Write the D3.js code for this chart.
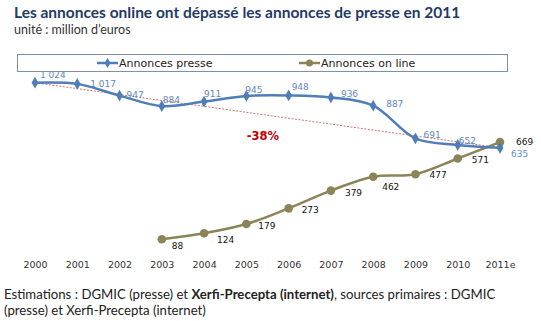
<!DOCTYPE html>
<html>
<head>
<meta charset="utf-8">
<script src="https://cdn.jsdelivr.net/npm/d3@7"></script>
<style>
  body { margin: 0; background: #fff; }
  svg { display: block; }
</style>
</head>
<body>
<svg width="541" height="321"></svg>
<script>
// data
const years = ['2000', '2001', '2002', '2003', '2004', '2005', '2006', '2007', '2008', '2009', '2010', '2011e'];
const presse = [1024, 1017, 947, 884, 911, 945, 948, 936, 887, 691, 652, 635];
const online = [null, null, null, 88, 124, 179, 273, 379, 462, 477, 571, 669];
const presseLabels = ['1 024', '1 017', '947', '884', '911', '945', '948', '936', '887', '691', '652', '635'];

// label offsets (dx, dy) from the point
const presseOff = [[5,-5],[13,3],[7,2],[1,-3],[0,-5],[-1,-3],[3,-5],[10,0],[13,1],[8,0],[1,-1],[11,9.5]];
const onlineOff = [null,null,null,[10,10],[13,10],[12,5],[13,5],[14,5],[9,13],[14,4],[14,5],[16,3]];

const svg = d3.select('svg');
const navy = '#1f3b66';
const blue = '#4f7db8';
const olive = '#8c8458';
const chartFont = 'DejaVu Sans, Verdana, sans-serif';

// titles
svg.append('text').attr('x', 14).attr('y', 18)
    .attr('font-family', 'Lato, sans-serif').attr('font-weight', 'bold').attr('font-size', 15.5)
    .attr('fill', navy).text('Les annonces online ont dépassé les annonces de presse en 2011');
svg.append('text').attr('x', 14).attr('y', 34)
    .attr('font-family', 'Lato, sans-serif').attr('font-size', 12.5)
    .attr('fill', '#333').text('unité : million d’euros');

// scales
const x = d3.scalePoint().domain(years).range([35, 500]);
const y = d3.scaleLinear().domain([0, 1100]).range([254, 70]);

// x axis (labels only)
const xAxis = d3.axisBottom(x).tickSize(0).tickPadding(0);
const xg = svg.append('g').attr('transform', 'translate(0,261)').call(xAxis);
xg.select('.domain').remove();
xg.selectAll('text').attr('font-family', chartFont)
    .attr('font-size', 9.5).attr('fill', '#333');

// trend line from first to last presse value
svg.append('line')
    .attr('x1', x(years[0])).attr('y1', y(presse[0]))
    .attr('x2', x(years[years.length - 1])).attr('y2', y(presse[presse.length - 1]))
    .attr('stroke', '#c0504d').attr('stroke-width', 0.8).attr('stroke-dasharray', '2,1.5');

svg.append('text').attr('x', 263).attr('y', 140).attr('text-anchor', 'middle')
    .attr('font-family', chartFont).attr('font-weight', 'bold')
    .attr('font-size', 11.5).attr('fill', '#c00000').text('-38%');

const line = d3.line()
    .defined(d => d.v != null)
    .x(d => x(d.year))
    .y(d => y(d.v))
    .curve(d3.curveCatmullRom.alpha(0.5));

const presseData = years.map((yr, i) => ({year: yr, v: presse[i], i: i}));
const onlineData = years.map((yr, i) => ({year: yr, v: online[i], i: i})).filter(d => d.v != null);

// online series
svg.append('path').datum(onlineData).attr('d', line)
    .attr('fill', 'none').attr('stroke', olive).attr('stroke-width', 2.5);
svg.selectAll('.pOnline').data(onlineData).join('circle')
    .attr('cx', d => x(d.year)).attr('cy', d => y(d.v)).attr('r', 4.3)
    .attr('fill', olive);

// presse series
svg.append('path').datum(presseData).attr('d', line)
    .attr('fill', 'none').attr('stroke', blue).attr('stroke-width', 2.5);
svg.selectAll('.pPresse').data(presseData).join('path')
    .attr('transform', d => `translate(${x(d.year)},${y(d.v)})`)
    .attr('d', d3.symbol(d3.symbolDiamond, 40))
    .attr('fill', blue);

// labels
svg.selectAll('.lPresse').data(presseData).join('text')
    .attr('x', d => x(d.year) + presseOff[d.i][0])
    .attr('y', d => y(d.v) + presseOff[d.i][1])
    .attr('font-family', chartFont).attr('font-size', 9)
    .attr('fill', '#6488bd')
    .text(d => presseLabels[d.i]);

svg.selectAll('.lOnline').data(onlineData).join('text')
    .attr('x', d => x(d.year) + onlineOff[d.i][0])
    .attr('y', d => y(d.v) + onlineOff[d.i][1])
    .attr('font-family', chartFont).attr('font-size', 9)
    .attr('fill', '#111')
    .text(d => d.v);

// legend
svg.append('rect').attr('x', 17.5).attr('y', 54.5).attr('width', 490).attr('height', 17)
    .attr('fill', '#fff').attr('stroke', '#7f8fa6').attr('stroke-width', 1);
const legendItems = [
    {name: 'Annonces presse', color: blue, sym: 'diamond', lx: 97},
    {name: 'Annonces on line', color: olive, sym: 'circle', lx: 299}
];
legendItems.forEach(it => {
    svg.append('line').attr('x1', it.lx).attr('x2', it.lx + 21).attr('y1', 63).attr('y2', 63)
        .attr('stroke', it.color).attr('stroke-width', 2.5);
    if (it.sym === 'diamond') {
        svg.append('path').attr('transform', `translate(${it.lx + 10.5},63)`)
            .attr('d', d3.symbol(d3.symbolDiamond, 30)).attr('fill', it.color);
    } else {
        svg.append('circle').attr('cx', it.lx + 10.5).attr('cy', 63).attr('r', 3.5).attr('fill', it.color);
    }
    svg.append('text').attr('x', it.lx + 22).attr('y', 67)
        .attr('font-family', chartFont).attr('font-size', 11)
        .attr('fill', '#222').text(it.name);
});

// footer
const foot = svg.append('text').attr('x', 4).attr('y', 299)
    .attr('font-family', 'Lato, sans-serif').attr('font-size', 13.2).attr('fill', '#222');
foot.append('tspan').text('Estimations : DGMIC (presse) et ');
foot.append('tspan').attr('font-weight', 'bold').text('Xerfi-Precepta (internet)');
foot.append('tspan').text(', sources primaires : DGMIC');
svg.append('text').attr('x', 4).attr('y', 315)
    .attr('font-family', 'Lato, sans-serif').attr('font-size', 13.2).attr('fill', '#222')
    .text('(presse) et Xerfi-Precepta (internet)');
</script>
</body>
</html>
